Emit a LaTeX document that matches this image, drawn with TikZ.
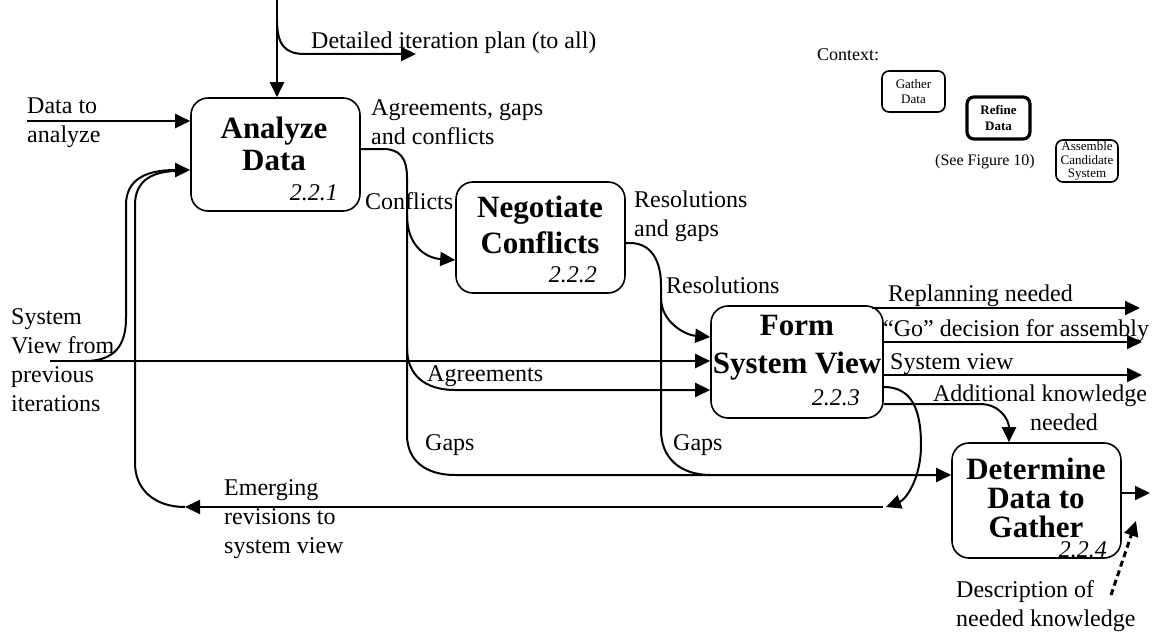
\documentclass[tikz,border=0pt]{standalone}
\usepackage{fontspec}
\setmainfont{Liberation Serif}
\usetikzlibrary{arrows.meta}

\begin{document}
\begin{tikzpicture}[x=1pt,y=-1pt,
    box/.style={draw, line width=1.6pt, rounded corners=17pt, inner sep=0pt},
    ttl/.style={font=\fontsize{31}{32}\selectfont\bfseries, align=center, inner sep=0pt},
    num/.style={font=\fontsize{24}{28}\selectfont\itshape, anchor=east, inner sep=0pt},
    lbl/.style={font=\fontsize{24}{29}\selectfont, align=left, anchor=west, inner sep=0pt},
    ctx/.style={draw, line width=1.6pt, rounded corners=7pt, inner sep=0pt, align=center},
    flow/.style={line width=2pt},
    arr/.style={flow, -{Triangle[length=15pt,width=14pt]}},
  ]
    \useasboundingbox (0,0) rectangle (1152,634);

    % প্রক্রিয়া বাক্সসমূহ
    \node[box, minimum width=169pt, minimum height=113pt] (ana) at (275.5,154.5) {};
    \node[box, minimum width=169pt, minimum height=111pt] (neg) at (540.5,237.5) {};
    \node[box, minimum width=172pt, minimum height=112pt] (form) at (797,362) {};
    \node[box, minimum width=169pt, minimum height=115pt] (det) at (1036.5,500.5) {};

    \node[ttl] (anat) at (274,144) {Analyze\\Data};
    \node[ttl] (negt) at (540,225) {Negotiate\\[4pt]Conflicts};
    \node[ttl] (formt) at (797,348) {Form\\[6pt]System View};
    \node[ttl, font=\fontsize{31}{29}\selectfont\bfseries] (dett) at (1036,498) {Determine\\Data to\\Gather};
    \node[num] (anan) at (338,193) {2.2.1};
    \node[num] (negn) at (597,275) {2.2.2};
    \node[num] (formn) at (860,398) {2.2.3};
    \node[num] (detn) at (1107,550) {2.2.4};

    % প্রসঙ্গ
    \node[lbl, font=\fontsize{18}{20}\selectfont] (ctxl) at (817,55) {Context:};
    \node[ctx, minimum width=63pt, minimum height=41pt, font=\fontsize{13}{15}\selectfont] (gath) at (913.5,91.5) {Gather\\Data};
    \node[ctx, line width=3.2pt, minimum width=63pt, minimum height=42pt, font=\fontsize{13}{16}\selectfont\bfseries] (refi) at (998.5,118) {Refine\\Data};
    \node[ctx, minimum width=62pt, minimum height=42pt, font=\fontsize{13}{13.5}\selectfont] (asse) at (1087,161) {Assemble\\Candidate\\System};
    \node[font=\fontsize{16}{18}\selectfont, inner sep=0pt] (seefig) at (985,162) {(See Figure 10)};

    % ইনপুট
    \coordinate (plan) at (277,0);
    \coordinate (planbr) at (277,20);
    \coordinate (planend) at (416,54);
    \draw[arr] (plan) -- (plan |- ana.north);
    \draw[arr] (planbr) .. controls (277,45) and (285,54) .. (305,54) -- (planend);
    \coordinate (datain) at (27,121);
    \draw[arr] (datain) -- (datain -| ana.west);
    \coordinate (prev) at (50,361);
    \draw[arr] (prev) -- (prev -| form.west);
    \draw[arr] (85,361) .. controls (115,361) and (126,345) .. (126,318) -- (126,205)
        .. controls (126,180) and (145,170) .. (ana.west |- 0,170);

    % Analyze থেকে
    \draw[arr] (ana.east |- 0,149) -- (383,149) .. controls (400,149) and (407,158) .. (407,178)
        -- (407,435) .. controls (407,460) and (425,475) .. (455,475) -- (det.west |- 0,475);
    \draw[arr] (407,215) .. controls (407,245) and (425,258) .. (neg.west |- 0,260);
    \draw[arr] (407,348) .. controls (407,375) and (425,390) .. (455,390) -- (form.west |- 0,390);

    % Negotiate থেকে
    \draw[flow] (neg.east |- 0,243) -- (630,243) .. controls (652,243) and (661,262) .. (661,285)
        -- (661,430) .. controls (661,458) and (680,475) .. (711,475);
    \draw[arr] (661,298) .. controls (661,322) and (685,335) .. (form.west |- 0,337);

    % Form থেকে
    \coordinate (replan) at (1140,308);
    \coordinate (go) at (1142,342);
    \coordinate (sysv) at (1142,375);
    \draw[arr] (872,308) -- (replan);
    \draw[arr] (form.east |- go) -- (go);
    \draw[arr] (form.east |- sysv) -- (sysv);
    \draw[arr] (form.east |- 0,404) -- (980,404) .. controls (1000,404) and (1009,420) .. (det.north -| 1009,0);
    \draw[arr] (form.east |- 0,387) .. controls (912,387) and (921,410) .. (921,445)
        .. controls (921,480) and (905,500) .. (886,507);
    \coordinate (emerg) at (185,507);
    \draw[arr] (883,507) -- (emerg);
    \draw[flow] (emerg) .. controls (155,507) and (135,490) .. (135,463) -- (135,205)
        .. controls (135,182) and (150,172) .. (175,171);

    % Determine থেকে
    \coordinate (detout) at (1150,493);
    \draw[arr] (det.east |- detout) -- (detout);
    \coordinate (descr) at (1111,595);
    \draw[arr, line width=3pt, dash pattern=on 6pt off 4pt] (descr) -- (1136,521);

    % লেবেলসমূহ
    \node[lbl] (lplan) at (311,43) {Detailed iteration plan (to all)};
    \node[lbl] (ldata) at (27,122.5) {Data to\\analyze};
    \node[lbl] (lagc) at (371,122.5) {Agreements, gaps\\and conflicts};
    \node[lbl] (lconf) at (365,201) {Conflicts};
    \node[lbl] (lresg) at (634,216) {Resolutions\\and gaps};
    \node[lbl] (lres) at (666,285) {Resolutions};
    \node[lbl] (lprev) at (11,360.5) {System\\View from\\previous\\iterations};
    \node[lbl] (lagr) at (427,376) {Agreements};
    \node[lbl] (lgap1) at (425,445) {Gaps};
    \node[lbl] (lgap2) at (673,445) {Gaps};
    \node[lbl] (lemer) at (224,519) {Emerging\\revisions to\\system view};
    \node[lbl] (lrepl) at (888,296) {Replanning needed};
    \node[lbl] (lgo) at (883,331) {“Go” decision for assembly};
    \node[lbl] (lsys) at (890,364) {System view};
    \node[lbl, align=center, anchor=center] (ladd) at (1040,408) {Additional knowledge\\\hspace*{48pt}needed};
    \node[lbl] (ldesc) at (956,606.5) {Description of\\needed knowledge};

\end{tikzpicture}
\end{document}
